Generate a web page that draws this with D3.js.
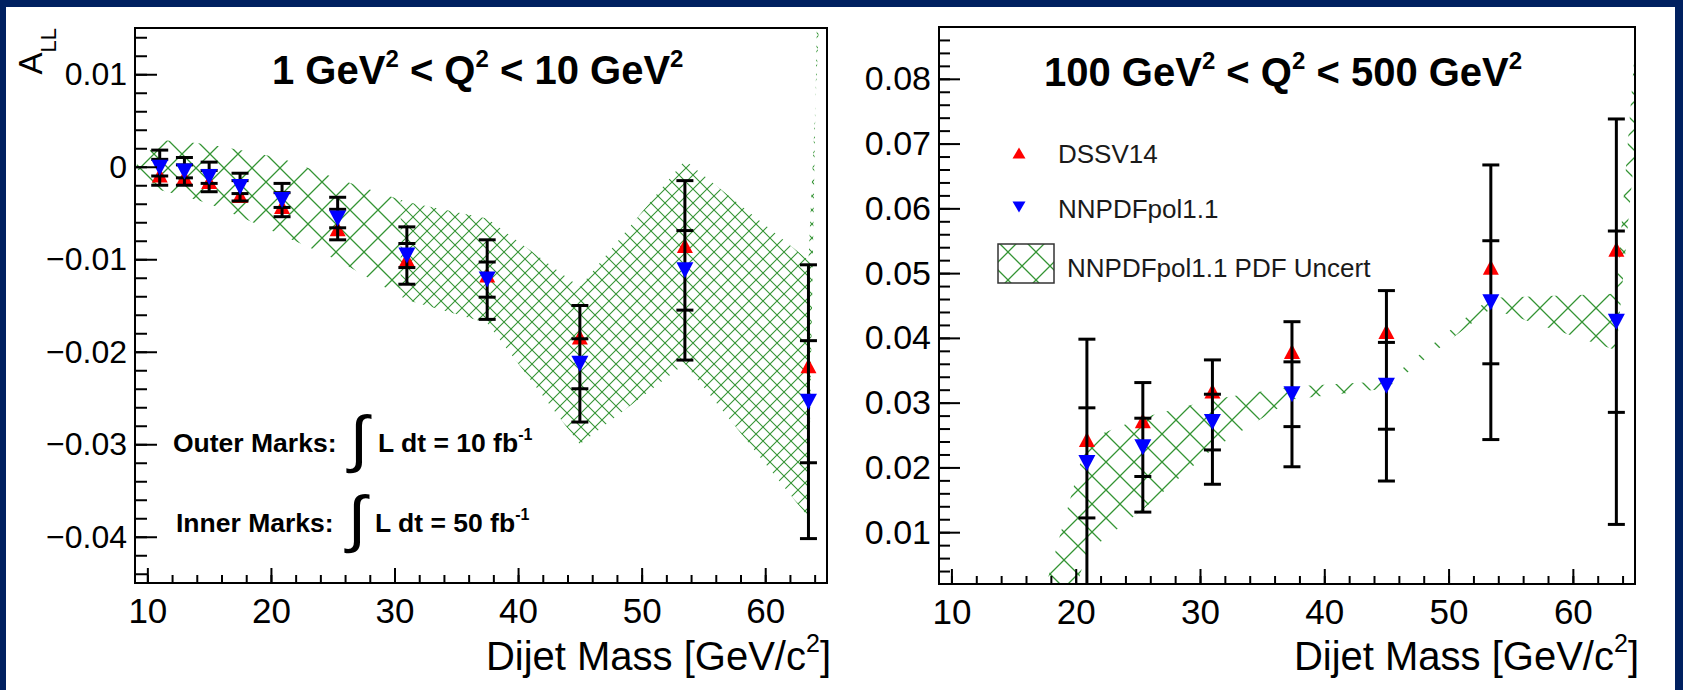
<!DOCTYPE html>
<html>
<head>
<meta charset="utf-8">
<script src="https://cdn.jsdelivr.net/npm/d3@7"></script>
<style>
  body { margin: 0; background: #002060; overflow: hidden; }
  text { font-family: "Liberation Sans", Arial, sans-serif; }
</style>
</head>
<body>
<svg id="chart" width="1683" height="690"></svg>
<script>
// values
var massLow   = [11, 13, 15, 17.5, 20.9, 25.4, 31, 37.5, 45, 53.5, 63.5];
var dssvLow   = [-0.0009, -0.0011, -0.0016, -0.0031, -0.0043, -0.0067, -0.0100, -0.0117, -0.0184, -0.0085, -0.0215];
var nnpdfLow  = [-0.0001, -0.0005, -0.0011, -0.0022, -0.0036, -0.0056, -0.0096, -0.0122, -0.0213, -0.0112, -0.0254];
var outerLow  = [0.0019, 0.0015, 0.0016, 0.0015, 0.0018, 0.0023, 0.0031, 0.0043, 0.0063, 0.0097, 0.0148];
var innerLow  = [0.0009, 0.0007, 0.0007, 0.0007, 0.0008, 0.0010, 0.0013, 0.0019, 0.0027, 0.0043, 0.0066];
var bandLowX  = [9, 11, 13, 15, 17.5, 20.9, 25.4, 31, 37.5, 45, 53.5, 63.5, 65.5];
var bandLowUp = [0.0, 0.0029, 0.0027, 0.0024, 0.0018, 0.0009, -0.0013, -0.0038, -0.0056, -0.0130, 0.0007, -0.0101, 0.050];
var bandLowDn = [0.0, -0.0025, -0.0032, -0.0040, -0.0054, -0.0074, -0.0101, -0.0144, -0.0169, -0.0300, -0.0213, -0.0379, 0.120];

var massHigh   = [20.9, 25.4, 31, 37.4, 45, 53.4, 63.5];
var dssvHigh   = [0.0243, 0.0272, 0.0318, 0.0379, 0.0410, 0.0509, 0.0537];
var nnpdfHigh  = [0.0207, 0.0231, 0.0270, 0.0313, 0.0326, 0.0455, 0.0425];
var outerHigh  = [0.0191, 0.0100, 0.0096, 0.0112, 0.0147, 0.0212, 0.0313];
var innerHigh  = [0.0085, 0.0045, 0.0043, 0.0050, 0.0067, 0.0095, 0.0140];
var bandHighX  = [15, 20.9, 25.4, 31, 37.4, 45, 53.4, 63.5, 66];
var bandHighUp = [-0.016, 0.0243, 0.0277, 0.0305, 0.0325, 0.0333, 0.0462, 0.0468, 0.110];
var bandHighDn = [-0.030, 0.0069, 0.0135, 0.0228, 0.0305, 0.0322, 0.0445, 0.0381, 0.090];

var massTicks      = [10, 20, 30, 40, 50, 60];
var lowTicks       = [-0.04, -0.03, -0.02, -0.01, 0, 0.01];
var lowTickLabels  = ["\u22120.04", "\u22120.03", "\u22120.02", "\u22120.01", "0", "0.01"];
var highTicks      = [0.01, 0.02, 0.03, 0.04, 0.05, 0.06, 0.07, 0.08];
var highTickLabels = ["0.01", "0.02", "0.03", "0.04", "0.05", "0.06", "0.07", "0.08"];
var legendLabels   = ["DSSV14", "NNPDFpol1.1", "NNPDFpol1.1 PDF Uncert"];

var green = "#349434";

var svg = d3.select("#chart");
svg.append("rect")
    .attr("x", 6).attr("y", 7)
    .attr("width", 1669).attr("height", 683)
    .attr("fill", "#fff");

var defs = svg.append("defs");

function hatch (id, p, w) {
    defs.append("pattern").attr("id", id)
        .attr("patternUnits", "userSpaceOnUse")
        .attr("width", p).attr("height", p)
      .append("path")
        .attr("d", "M0,0L" + p + "," + p + "M0," + p + "L" + p + ",0")
        .attr("stroke", green)
        .attr("stroke-width", w)
        .attr("fill", "none");
}
hatch("hatchCoarse", 28, 1.3);
hatch("hatchFine", 14, 1.1);

function triangle (w, h, up) {
    var s = up ? 1 : -1;
    return "M0," + (-s * h / 2) + "L" + (w / 2) + "," + (s * h / 2) + "L" + (-w / 2) + "," + (s * h / 2) + "Z";
}

// squeeze a text node into a target box [x0, y0, x1, y1]
function fitText (sel, box) {
    var b = sel.node().getBBox();
    var sx = (box[2] - box[0]) / b.width,
        sy = (box[3] - box[1]) / b.height;
    sel.attr("transform", "translate(" + (box[0] - b.x * sx) + "," + (box[1] - b.y * sy) + ") scale(" + sx + "," + sy + ")");
}

function clipRect (id, x0, y0, x1, y1) {
    defs.append("clipPath").attr("id", id)
      .append("rect")
        .attr("x", x0).attr("y", y0)
        .attr("width", x1 - x0).attr("height", y1 - y0);
    return "url(#" + id + ")";
}

function drawPanel (o) {
    var g = svg.append("g");
    var x = d3.scaleLinear().domain([9, 65]).range([o.left, o.right]);
    var y = d3.scaleLinear().domain(o.yDomain).range([o.bottom, o.top]);

    var plot = g.append("g").attr("clip-path", clipRect(o.id + "-clip", o.left, o.top, o.right, o.bottom));

    // PDF uncertainty band
    var bandData = o.bandX.map(function(v, i) { return {x: v, hi: o.bandUp[i], lo: o.bandDn[i]}; });
    var area = d3.area()
        .x(function(d) { return x(d.x); })
        .y0(function(d) { return y(d.lo); })
        .y1(function(d) { return y(d.hi); });
    var split = o.denseFrom != undefined ? x(o.denseFrom) : o.right;
    plot.append("g").attr("clip-path", clipRect(o.id + "-coarse", o.left, o.top, split, o.bottom))
      .append("path").attr("d", area(bandData)).attr("fill", "url(#hatchCoarse)");
    if (o.denseFrom != undefined) {
        plot.append("g").attr("clip-path", clipRect(o.id + "-dense", split, o.top, o.right, o.bottom))
          .append("path").attr("d", area(bandData)).attr("fill", "url(#hatchFine)");
    }

    var pts = o.mass.map(function(m, i) {
        return {x: m, dssv: o.dssv[i], nn: o.nnpdf[i], eo: o.outer[i], ei: o.inner[i]};
    });

    plot.selectAll(".dssv").data(pts).enter()
        .append("path").attr("class", "dssv")
        .attr("d", triangle(16, 15, true))
        .attr("transform", function(d) { return "translate(" + x(d.x) + "," + y(d.dssv) + ")"; })
        .attr("fill", "#f00");

    var bars = plot.selectAll(".bar").data(pts).enter()
        .append("g").attr("class", "bar")
        .attr("stroke", "#000").attr("stroke-width", 3);
    bars.append("line")
        .attr("x1", function(d) { return x(d.x); })
        .attr("x2", function(d) { return x(d.x); })
        .attr("y1", function(d) { return y(d.nn + d.eo); })
        .attr("y2", function(d) { return y(d.nn - d.eo); });
    [["eo", 1], ["eo", -1], ["ei", 1], ["ei", -1]].forEach(function(c) {
        bars.append("line")
            .attr("x1", function(d) { return x(d.x) - 8.5; })
            .attr("x2", function(d) { return x(d.x) + 8.5; })
            .attr("y1", function(d) { return y(d.nn + c[1] * d[c[0]]); })
            .attr("y2", function(d) { return y(d.nn + c[1] * d[c[0]]); });
    });

    plot.selectAll(".nnpdf").data(pts).enter()
        .append("path").attr("class", "nnpdf")
        .attr("d", triangle(17, 16, false))
        .attr("transform", function(d) { return "translate(" + x(d.x) + "," + y(d.nn) + ")"; })
        .attr("fill", "#00f");

    // axes, ticks pointing into the frame
    function style (sel, size) {
        sel.select(".domain").remove();
        sel.selectAll("line").attr("stroke", "#000").attr("stroke-width", 2);
        sel.selectAll("text").attr("font-size", size).attr("fill", "#000")
            .attr("font-family", "Liberation Sans, Arial, sans-serif");
    }
    var yMinor = d3.range(o.yMinor[0], o.yMinor[1] + 1e-9, 0.002);
    g.append("g").attr("transform", "translate(" + o.left + ",0)")
        .call(d3.axisLeft(y).tickValues(yMinor).tickFormat("").tickSizeInner(-o.minorLen).tickSizeOuter(0))
        .call(style, 0);
    g.append("g").attr("transform", "translate(" + o.left + ",0)")
        .call(d3.axisLeft(y).tickValues(o.yTicks)
            .tickFormat(function(d, i) { return o.yLabels[i]; })
            .tickSizeInner(-o.majorLen).tickSizeOuter(0).tickPadding(8))
        .call(style, o.yFont);

    var xMinor = d3.range(10, 65, 2);
    g.append("g").attr("transform", "translate(0," + o.bottom + ")")
        .call(d3.axisBottom(x).tickValues(xMinor).tickFormat("").tickSizeInner(-8).tickSizeOuter(0))
        .call(style, 0);
    g.append("g").attr("transform", "translate(0," + o.bottom + ")")
        .call(d3.axisBottom(x).tickValues(massTicks).tickFormat(d3.format("d"))
            .tickSizeInner(-15).tickSizeOuter(0).tickPadding(15))
        .call(style, 35);

    g.append("rect")
        .attr("x", o.left).attr("y", o.top)
        .attr("width", o.right - o.left).attr("height", o.bottom - o.top)
        .attr("fill", "none").attr("stroke", "#000").attr("stroke-width", 2);

    var xt = g.append("text")
        .attr("x", o.right + 4).attr("y", 670)
        .attr("text-anchor", "end").attr("font-size", 40);
    xt.append("tspan").text("Dijet Mass [GeV/c");
    xt.append("tspan").attr("font-size", 25).attr("dy", -18).text("2");
    xt.append("tspan").attr("dy", 18).text("]");

    var tt = g.append("text")
        .attr("x", o.titleX).attr("y", o.titleY)
        .attr("font-size", 40).attr("font-weight", "bold");
    var shift = 0;
    o.title.forEach(function(part) {
        tt.append("tspan").attr("dy", shift).text(part[0]);
        tt.append("tspan").attr("font-size", 24).attr("dy", -17).text(part[1]);
        shift = 17;
    });
    return {x: x, y: y, g: g};
}

var low = drawPanel({
    id: "low", left: 135, right: 827, top: 28, bottom: 583,
    yDomain: [-0.045, 0.015], yTicks: lowTicks, yLabels: lowTickLabels,
    yMinor: [-0.044, 0.014], yFont: 32, majorLen: 22, minorLen: 12,
    mass: massLow, dssv: dssvLow, nnpdf: nnpdfLow, outer: outerLow, inner: innerLow,
    bandX: bandLowX, bandUp: bandLowUp, bandDn: bandLowDn, denseFrom: 30.5,
    titleX: 272, titleY: 84,
    title: [["1 GeV", "2"], [" < Q", "2"], [" < 10 GeV", "2"]]
});

var high = drawPanel({
    id: "high", left: 939, right: 1635, top: 27, bottom: 584,
    yDomain: [0.002, 0.088], yTicks: highTicks, yLabels: highTickLabels,
    yMinor: [0.004, 0.086], yFont: 34, majorLen: 21, minorLen: 11,
    mass: massHigh, dssv: dssvHigh, nnpdf: nnpdfHigh, outer: outerHigh, inner: innerHigh,
    bandX: bandHighX, bandUp: bandHighUp, bandDn: bandHighDn,
    titleX: 1044, titleY: 86,
    title: [["100 GeV", "2"], [" < Q", "2"], [" < 500 GeV", "2"]]
});

// y axis title of the left panel
var yt = svg.append("text")
    .attr("transform", "translate(42,28) rotate(-90)")
    .attr("text-anchor", "end").attr("font-size", 33);
yt.append("tspan").text("A");
yt.append("tspan").attr("font-size", 22).attr("dy", 14).text("LL");

// luminosity notes
[["Outer Marks:", 173, 452, "10", [346, 404, 372, 474], 378],
 ["Inner Marks:", 176, 532, "50", [344, 484, 370, 554], 375]].forEach(function(n) {
    low.g.append("text")
        .attr("x", n[1]).attr("y", n[2])
        .attr("font-size", 26.5).attr("font-weight", "bold")
        .text(n[0]);
    var integ = low.g.append("text")
        .attr("font-family", "DejaVu Sans").attr("font-size", 60).text("\u222b");
    fitText(integ, n[4]);
    var t2 = low.g.append("text")
        .attr("x", n[5]).attr("y", n[2])
        .attr("font-size", 26.5).attr("font-weight", "bold");
    t2.append("tspan").text("L dt = " + n[3] + " fb");
    t2.append("tspan").attr("font-size", 16).attr("dy", -12).text("-1");
});

// legend
var leg = high.g.append("g");
leg.append("path").attr("d", triangle(13, 11, true))
    .attr("transform", "translate(1019,153)").attr("fill", "#f00");
leg.append("path").attr("d", triangle(13, 11, false))
    .attr("transform", "translate(1019,207)").attr("fill", "#00f");
leg.append("rect")
    .attr("x", 998).attr("y", 244).attr("width", 56).attr("height", 39)
    .attr("fill", "url(#hatchCoarse)").attr("stroke", "#333").attr("stroke-width", 1.5);
leg.selectAll(".legtext").data(legendLabels).enter()
    .append("text").attr("class", "legtext")
    .attr("x", function(d, i) { return i < 2 ? 1058 : 1067; })
    .attr("y", function(d, i) { return [163, 218, 277][i]; })
    .attr("font-size", 26).attr("fill", "#1a1a1a")
    .text(function(d) { return d; });
</script>
</body>
</html>
